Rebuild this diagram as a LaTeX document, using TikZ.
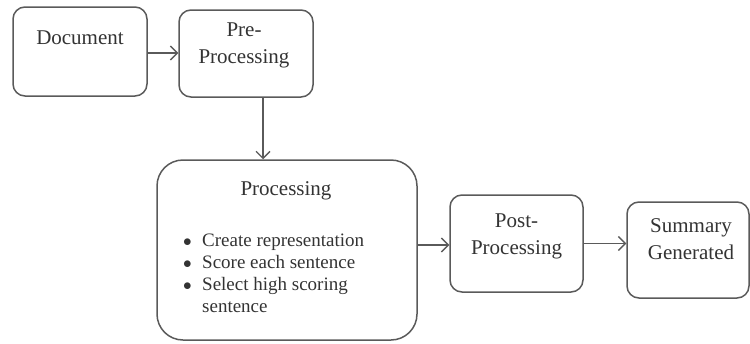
\documentclass[tikz,border=0pt]{standalone}
\usepackage{fontspec}
\setmainfont{Liberation Serif}
\usetikzlibrary{arrows.meta}
\definecolor{linec}{HTML}{5A5A5A}
\definecolor{txtc}{HTML}{333333}
\begin{document}
\begin{tikzpicture}[x=1pt,y=-1pt,
  box/.style={draw=linec,line width=1.5pt,rounded corners=12pt,inner sep=0pt},
  bigbox/.style={box,rounded corners=26pt},
  lbl/.style={text=txtc,font=\fontsize{21}{27}\selectfont,align=center,inner sep=0pt},
  item/.style={text=txtc,font=\fontsize{19}{22}\selectfont,anchor=base west,inner sep=0pt},
  conn/.style={draw=linec,line width=1.4pt,-{Straight Barb[length=7pt,width=14pt,line width=1.3pt]}}]
\useasboundingbox (0,0) rectangle (750,343);
% boxes
\node[box,minimum width=134pt,minimum height=89pt] (doc) at (80,51.5) {};
\node[box,minimum width=134pt,minimum height=87pt] (pre) at (246,53.5) {};
\node[bigbox,minimum width=260pt,minimum height=180pt] (proc) at (287,250) {};
\node[box,minimum width=133pt,minimum height=97pt] (post) at (516.5,243.5) {};
\node[box,minimum width=122pt,minimum height=96pt] (sum) at (688,250) {};
% texts
\node[lbl] (doct) at (80,38) {Document};
\node[lbl] (pret) at (244,45) {Pre-\\Processing};
\node[lbl] (proct) at (286,191) {Processing};
\node[item] (b1) at (183,246) {$\bullet$};
\node[item] (i1) at (202,246) {Create representation};
\node[item] (b2) at (183,268) {$\bullet$};
\node[item] (i2) at (202,268) {Score each sentence};
\node[item] (b3) at (183,290) {$\bullet$};
\node[item] (i3) at (202,290) {Select high scoring};
\node[item] (i4) at (202,312) {sentence};
\node[lbl] (postt) at (516.5,236) {Post-\\Processing};
\node[lbl] (sumt) at (691,239) {Summary\\Generated};
% connectors
\coordinate (c1) at ([yshift=-1.5pt]doc.east);
\draw[conn] (c1) -- (c1 -| pre.west);
\coordinate (c2) at ([xshift=17pt]pre.south);
\draw[conn] (c2) -- (c2 |- proc.north);
\coordinate (c3) at ([yshift=-1.5pt]post.west);
\draw[conn] (c3 -| proc.east) -- (c3);
\coordinate (c4) at (post.east);
\draw[conn] (c4) -- (c4 -| sum.west);
\end{tikzpicture}
\end{document}
